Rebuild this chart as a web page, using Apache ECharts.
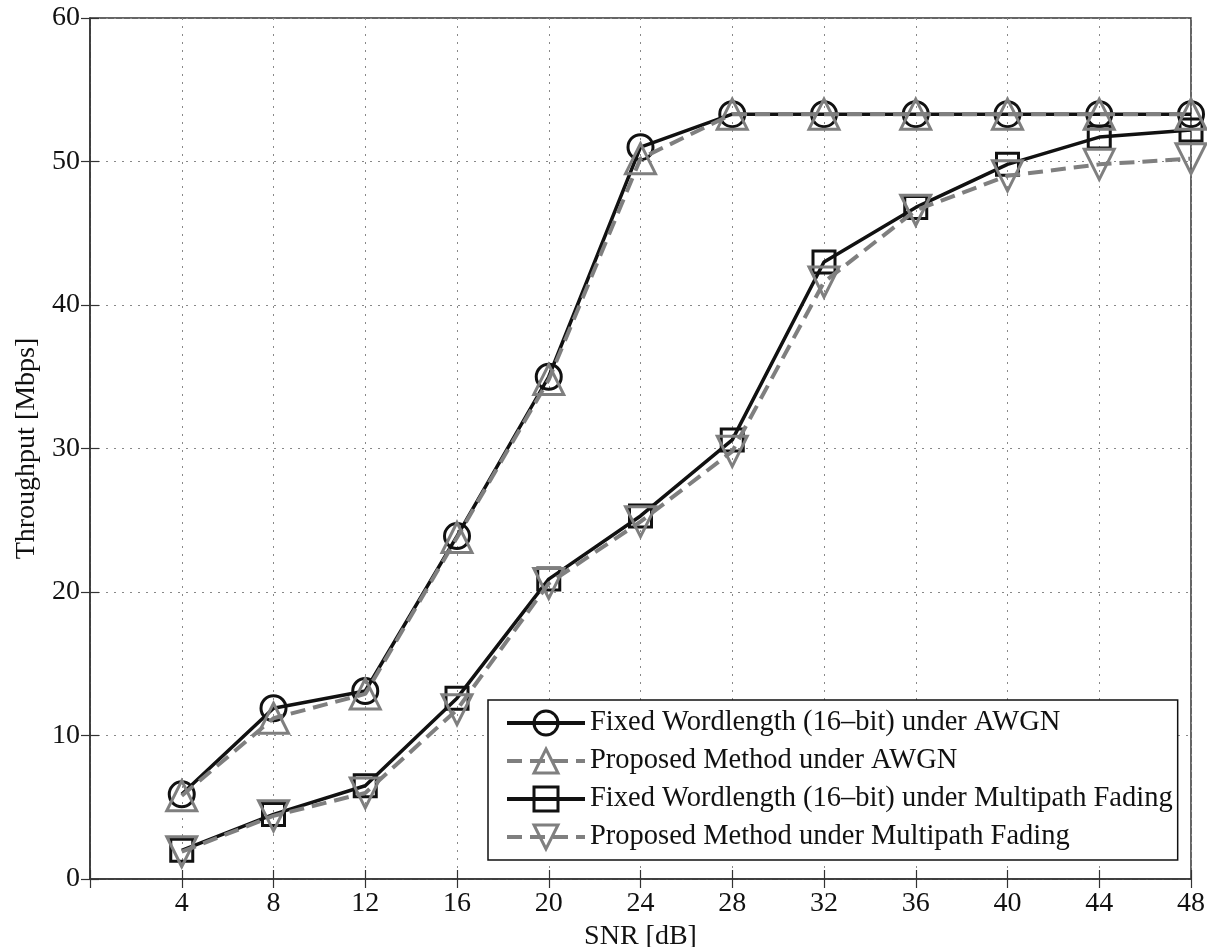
<!DOCTYPE html>
<html>
<head>
<meta charset="utf-8">
<script src="https://cdn.jsdelivr.net/npm/echarts@6/dist/echarts.min.js"></script>
<style>
html,body{margin:0;padding:0;background:#fff;}
#chart{width:1207px;height:947px;}
</style>
</head>
<body>
<div id="chart"></div>
<script>
var snr = [4, 8, 12, 16, 20, 24, 28, 32, 36, 40, 44, 48];
var fixedAwgn = [5.9, 11.9, 13.1, 23.9, 35.0, 51.0, 53.3, 53.3, 53.3, 53.3, 53.3, 53.3];
var proposedAwgn = [5.8, 11.2, 12.9, 23.8, 34.8, 50.2, 53.3, 53.3, 53.3, 53.3, 53.3, 53.3];
var fixedMultipath = [2.0, 4.5, 6.5, 12.6, 20.9, 25.3, 30.6, 43.0, 46.8, 49.8, 51.7, 52.2];
var proposedMultipath = [1.9, 4.4, 6.0, 11.8, 20.6, 24.9, 29.8, 41.6, 46.6, 49.0, 49.8, 50.2];
var seriesNames = [
  'Fixed Wordlength (16\u2013bit) under AWGN',
  'Proposed Method under AWGN',
  'Fixed Wordlength (16\u2013bit) under Multipath Fading',
  'Proposed Method under Multipath Fading'
];
var xTitle = 'SNR [dB]';
var yTitle = 'Throughput [Mbps]';

function pairs(xs, ys) { return xs.map(function (x, i) { return [x, ys[i]]; }); }

var FONT = 'Liberation Serif';
var GRAY = '#7f7f7f';
var BLACK = '#111';

function mkSeries(name, data, color, dashed, symbol, size, rotate) {
  return {
    name: name, type: 'line', data: data,
    xAxisIndex: 0, yAxisIndex: 0,
    symbol: symbol, symbolSize: size, symbolRotate: rotate || 0,
    showAllSymbol: true,
    lineStyle: { color: color, width: dashed ? 4 : 3.5, type: dashed ? [15, 8] : 'solid' },
    itemStyle: { color: 'rgba(0,0,0,0)', borderColor: color, borderWidth: 3 },
    emphasis: { disabled: true },
    animation: false, z: dashed ? 3 : 2
  };
}

var chart = echarts.init(document.getElementById('chart'), null, { renderer: 'canvas' });
chart.setOption({
  backgroundColor: '#fff',
  animation: false,
  grid: { left: 90, right: 16, top: 18, bottom: 68, containLabel: false, outerBoundsMode: 'none',
    show: true, borderColor: '#333', borderWidth: 1.5, backgroundColor: 'transparent' },
  legend: {
    orient: 'vertical', left: 488, top: 700,
    padding: [8, 5, 8, 17],
    itemWidth: 78, itemHeight: 30, itemGap: 8,
    backgroundColor: '#fff', borderColor: '#111', borderWidth: 1.5,
    lineStyle: { width: 4 },
    itemStyle: { borderWidth: 3 },
    textStyle: { fontFamily: FONT, fontSize: 28.5, color: '#111', lineHeight: 30 },
    data: seriesNames
  },
  xAxis: [{
    type: 'value', min: 0, max: 48, interval: 4,
    name: xTitle, nameLocation: 'middle', nameGap: 39,
    nameTextStyle: { fontFamily: FONT, fontSize: 28, color: '#111' },
    axisLine: { show: true, lineStyle: { color: '#333', width: 1.5 } },
    axisTick: { show: true, inside: true, length: 9, lineStyle: { color: '#333', width: 1.2 } },
    axisLabel: { fontFamily: FONT, fontSize: 28, color: '#111', margin: 11,
      formatter: function (v) { return v === 0 ? '' : String(v); } },
    splitLine: { show: true, lineStyle: { color: '#888', width: 1, type: [2, 6] } }
  }, {
    type: 'value', min: 0, max: 48, interval: 4, position: 'top',
    axisLine: { show: false },
    axisTick: { show: true, inside: true, length: 9, lineStyle: { color: '#333', width: 1.2 } },
    axisLabel: { show: false }, splitLine: { show: false }
  }],
  yAxis: [{
    type: 'value', min: 0, max: 60, interval: 10,
    name: yTitle, nameLocation: 'middle', nameGap: 47, nameRotate: 90,
    nameTextStyle: { fontFamily: FONT, fontSize: 28, color: '#111' },
    axisLine: { show: true, lineStyle: { color: '#333', width: 1.5 } },
    axisTick: { show: true, inside: true, length: 9, lineStyle: { color: '#333', width: 1.2 } },
    axisLabel: { fontFamily: FONT, fontSize: 28, color: '#111', margin: 10 },
    splitLine: { show: true, lineStyle: { color: '#888', width: 1, type: [2, 6] } }
  }, {
    type: 'value', min: 0, max: 60, interval: 10, position: 'right',
    axisLine: { show: false },
    axisTick: { show: true, inside: true, length: 9, lineStyle: { color: '#333', width: 1.2 } },
    axisLabel: { show: false }, splitLine: { show: false }
  }],
  series: [
    mkSeries(seriesNames[0], pairs(snr, fixedAwgn), BLACK, false, 'circle', 25),
    mkSeries(seriesNames[1], pairs(snr, proposedAwgn), GRAY, true, 'triangle', 30),
    mkSeries(seriesNames[2], pairs(snr, fixedMultipath), BLACK, false, 'rect', 22),
    mkSeries(seriesNames[3], pairs(snr, proposedMultipath), GRAY, true, 'triangle', 30, 180)
  ]
});
</script>
</body>
</html>
